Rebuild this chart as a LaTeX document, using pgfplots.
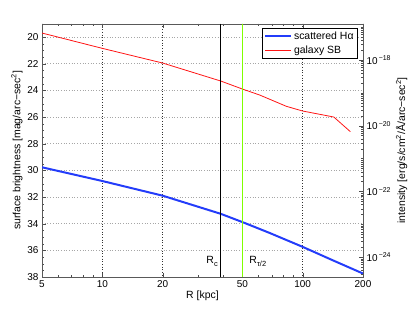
\documentclass[border=0pt]{standalone}
\usepackage{fontspec}
\setmainfont{Liberation Sans}
\usepackage{pgfplots}
\pgfplotsset{compat=1.18}
\definecolor{mblue}{RGB}{35,60,250}
\definecolor{mred}{RGB}{255,20,20}
\definecolor{mgreen}{RGB}{128,255,0}
\begin{document}
\begin{tikzpicture}
\begin{axis}[name=ax, width=321bp, height=253.3bp, scale only axis,
  xmode=log, xmin=5, xmax=200, ymin=19, ymax=38, y dir=reverse,
  xtick={5,10,20,50,100,200}, xticklabels={5,10,20,50,100,200},
  minor xtick={6,7,8,9,30,40,60,70,80,90},
  ytick={20,22,...,38},
  minor y tick num=3,
  ytick pos=left,
  xmajorgrids, ymajorgrids,
  x grid style={line width=0.5pt, dash pattern=on 0.5bp off 2.2bp, black!80},
  y grid style={line width=0.5pt, dash pattern=on 0.5bp off 2.2bp, black!35},
  axis line style={black!65},
  tick style={black!70},
  major tick length=4bp, minor tick length=2bp,
  xlabel={R [kpc]},
  ylabel={surface brightness [mag/arc−sec\textsuperscript{2}]},
  ticklabel style={font=\fontsize{10}{12}\selectfont},
  label style={font=\fontsize{10.5}{12}\selectfont},
  xlabel style={yshift=3bp},
  ylabel style={yshift=-2bp},
  /pgf/number format/assume math mode=true,
  legend style={at={(0.984,0.983)}, anchor=north east, draw=black, line width=0.6pt,
    font=\fontsize{10.5}{12}\selectfont, inner xsep=2bp, inner ysep=1.5bp,
    row sep=1bp, cells={anchor=west}},
  legend image code/.code={\draw[#1] (0bp,0bp) -- (26bp,0bp);},
]
\addplot[mblue, line width=2pt, line join=round] coordinates {
 (5,29.77) (10,30.8) (20,31.9) (39,33.26) (50,33.88) (68,34.68) (100,35.74) (140,36.72) (200,37.74)};
\addlegendentry{scattered Hα}
\addplot[mred, line width=0.8pt] coordinates {
 (5,19.7) (10,20.85) (20,21.95) (39,23.3) (50,23.9) (61,24.35) (68,24.65) (83,25.2) (100,25.55) (143,26.0) (173,27.1)};
\addlegendentry{galaxy SB}
\addplot[black, line width=0.8pt, forget plot] coordinates {(39,19) (39,38)};
\addplot[mgreen, line width=0.8pt, forget plot] coordinates {(50,19) (50,38)};
\node[anchor=base east, font=\fontsize{10.5}{12}\selectfont, inner sep=1bp] at (axis cs:38.2,37.0) {R\raisebox{-0.45ex}{\fontsize{7.5}{8}\selectfont c}};
\node[anchor=base west, font=\fontsize{10.5}{12}\selectfont, inner sep=1bp] at (axis cs:53.5,37.0) {R\raisebox{-0.5ex}{\fontsize{7.5}{8}\selectfont τ/2}};
\end{axis}
\begin{axis}[width=321bp, height=253.3bp, scale only axis,
  xmode=log, xmin=5, xmax=200, axis x line=none,
  axis y line*=right, ymode=log, ymin=2.512e-25, ymax=1.259e-17,
  ytick={1e-24,1e-22,1e-20,1e-18},
  yticklabels={10\textsuperscript{\,−24},10\textsuperscript{\,−22},10\textsuperscript{\,−20},10\textsuperscript{\,−18}},
  minor ytick={2e-25,3e-25,4e-25,5e-25,6e-25,7e-25,8e-25,9e-25,
   2e-24,3e-24,4e-24,5e-24,6e-24,7e-24,8e-24,9e-24,1e-23,
   2e-23,3e-23,4e-23,5e-23,6e-23,7e-23,8e-23,9e-23,
   2e-22,3e-22,4e-22,5e-22,6e-22,7e-22,8e-22,9e-22,1e-21,
   2e-21,3e-21,4e-21,5e-21,6e-21,7e-21,8e-21,9e-21,
   2e-20,3e-20,4e-20,5e-20,6e-20,7e-20,8e-20,9e-20,1e-19,
   2e-19,3e-19,4e-19,5e-19,6e-19,7e-19,8e-19,9e-19,
   2e-18,3e-18,4e-18,5e-18,6e-18,7e-18,8e-18,9e-18,1e-17},
  axis line style={black!65},
  tick style={black!70},
  major tick length=4bp, minor tick length=2bp,
  ylabel={intensity [erg/s/cm\textsuperscript{2}/Å/arc−sec\textsuperscript{2}]},
  ticklabel style={font=\fontsize{10}{12}\selectfont},
  label style={font=\fontsize{10.5}{12}\selectfont},
  ylabel style={yshift=2bp},
]
\addplot[draw=none, forget plot] coordinates {(5,1e-20) (200,1e-20)};
\end{axis}
\pgfresetboundingbox
\path ([shift={(-42bp,-36bp)}]ax.south west) rectangle ([shift={(52bp,23.7bp)}]ax.north east);
\end{tikzpicture}
\end{document}
